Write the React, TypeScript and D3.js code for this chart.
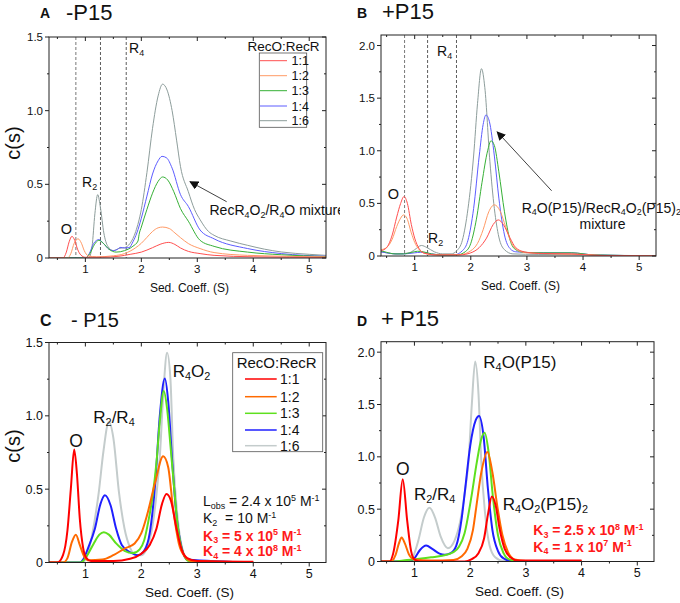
import React from 'react';
import * as d3 from 'd3';

type Pt = [number, number];

const FONT = "'Liberation Sans', Arial, Helvetica, sans-serif";

const RATIOS = ['1:1', '1:2', '1:3', '1:4', '1:6'];
const X_TICKS = [1, 2, 3, 4, 5];
const X_MINOR = [0.5, 1.5, 2.5, 3.5, 4.5];
const Y_TICKS_15 = [0, 0.5, 1.0, 1.5];
const Y_MINOR_15 = [0.25, 0.75, 1.25];
const Y_TICKS_20 = [0, 0.5, 1.0, 1.5, 2.0];
const Y_MINOR_20 = [0.25, 0.75, 1.25, 1.75];

const A_DASH = [0.83, 1.27, 1.73];
const B_DASH = [0.82, 1.23, 1.745];

// ---------- Panel A (-P15, experimental) ----------
const A_11: Pt[] = [[0.35,0],[0.6,0],[0.66,0.04],[0.71,0.11],[0.76,0.147],[0.81,0.12],[0.86,0.06],[0.92,0.02],[1.0,0.005],[1.3,0.005],[1.6,0.012],[1.8,0.025],[2.0,0.04],[2.2,0.07],[2.35,0.095],[2.49,0.106],[2.6,0.092],[2.7,0.068],[2.84,0.045],[3.05,0.03],[3.3,0.018],[4.0,0.008],[5.3,0.004]];
const A_12: Pt[] = [[0.35,0],[0.68,0],[0.74,0.03],[0.8,0.1],[0.87,0.13],[0.93,0.1],[0.98,0.05],[1.05,0.015],[1.2,0.008],[1.5,0.015],[1.7,0.03],[1.9,0.07],[2.0,0.1],[2.1,0.14],[2.2,0.18],[2.3,0.205],[2.38,0.21],[2.5,0.2],[2.6,0.17],[2.7,0.138],[2.84,0.098],[3.05,0.064],[3.3,0.037],[3.9,0.018],[5.3,0.008]];
const A_13: Pt[] = [[0.35,0],[1.0,0],[1.08,0.03],[1.16,0.09],[1.24,0.12],[1.32,0.1],[1.42,0.06],[1.55,0.04],[1.7,0.05],[1.85,0.08],[1.94,0.115],[1.96,0.16],[2.0,0.21],[2.1,0.33],[2.2,0.44],[2.3,0.52],[2.38,0.55],[2.47,0.53],[2.58,0.45],[2.7,0.335],[2.84,0.25],[3.05,0.12],[3.3,0.079],[3.9,0.04],[4.5,0.022],[5.3,0.01]];
const A_14: Pt[] = [[0.35,0],[1.0,0],[1.07,0.03],[1.15,0.1],[1.24,0.125],[1.32,0.1],[1.42,0.06],[1.5,0.05],[1.58,0.06],[1.62,0.072],[1.7,0.068],[1.78,0.07],[1.85,0.11],[1.92,0.17],[2.0,0.27],[2.1,0.42],[2.2,0.57],[2.3,0.66],[2.37,0.69],[2.45,0.68],[2.55,0.61],[2.7,0.43],[2.84,0.35],[3.05,0.19],[3.3,0.13],[3.9,0.064],[4.5,0.03],[5.3,0.012]];
const A_16: Pt[] = [[0.35,0],[1.06,0],[1.12,0.08],[1.17,0.3],[1.22,0.43],[1.27,0.34],[1.33,0.17],[1.4,0.08],[1.5,0.05],[1.6,0.065],[1.7,0.07],[1.8,0.1],[1.9,0.18],[2.0,0.33],[2.1,0.58],[2.2,0.88],[2.3,1.1],[2.38,1.18],[2.46,1.14],[2.55,1.0],[2.63,0.8],[2.7,0.62],[2.84,0.45],[2.95,0.33],[3.05,0.26],[3.2,0.18],[3.3,0.154],[3.6,0.115],[3.9,0.086],[4.2,0.06],[4.5,0.041],[5.0,0.025],[5.3,0.018]];

// ---------- Panel B (+P15, experimental) ----------
const B_11: Pt[] = [[0.4,0.05],[0.5,0.08],[0.6,0.2],[0.68,0.37],[0.75,0.5],[0.81,0.565],[0.87,0.5],[0.94,0.3],[1.0,0.17],[1.08,0.07],[1.18,0.025],[1.4,0.01],[1.8,0.01],[2.0,0.03],[2.15,0.08],[2.28,0.17],[2.4,0.3],[2.49,0.343],[2.58,0.3],[2.7,0.17],[2.8,0.08],[2.95,0.04],[3.2,0.025],[3.8,0.02],[4.3,0.005],[5.3,0.002]];
const B_12: Pt[] = [[0.4,0.06],[0.5,0.08],[0.6,0.16],[0.68,0.28],[0.75,0.36],[0.8,0.39],[0.86,0.36],[0.94,0.22],[1.0,0.13],[1.08,0.06],[1.18,0.025],[1.4,0.01],[1.8,0.012],[2.0,0.05],[2.12,0.12],[2.22,0.25],[2.32,0.42],[2.42,0.486],[2.52,0.43],[2.62,0.28],[2.72,0.13],[2.85,0.05],[3.0,0.03],[3.5,0.02],[4.0,0.015],[4.4,0.004],[5.3,0.002]];
const B_13: Pt[] = [[0.4,0.05],[0.5,0.035],[0.65,0.02],[0.8,0.02],[0.95,0.035],[1.05,0.045],[1.15,0.04],[1.3,0.02],[1.5,0.01],[1.75,0.01],[1.9,0.04],[2.0,0.12],[2.1,0.35],[2.2,0.7],[2.3,1.0],[2.36,1.095],[2.42,1.05],[2.5,0.8],[2.6,0.42],[2.7,0.15],[2.8,0.06],[2.95,0.035],[3.3,0.03],[3.8,0.03],[4.2,0.01],[5.3,0.002]];
const B_14: Pt[] = [[0.4,0.04],[0.5,0.03],[0.65,0.02],[0.8,0.02],[1.0,0.03],[1.1,0.035],[1.3,0.02],[1.5,0.01],[1.7,0.01],[1.85,0.05],[1.95,0.15],[2.05,0.45],[2.15,0.95],[2.22,1.25],[2.27,1.34],[2.33,1.28],[2.42,0.95],[2.5,0.55],[2.6,0.2],[2.7,0.07],[2.8,0.04],[3.2,0.03],[3.8,0.03],[4.2,0.01],[5.3,0.002]];
const B_16: Pt[] = [[0.4,0.04],[0.5,0.03],[0.7,0.02],[0.9,0.03],[1.0,0.06],[1.12,0.1],[1.22,0.08],[1.35,0.04],[1.5,0.02],[1.65,0.02],[1.75,0.05],[1.85,0.15],[1.95,0.45],[2.05,0.95],[2.12,1.45],[2.19,1.78],[2.25,1.6],[2.34,0.9],[2.42,0.45],[2.5,0.18],[2.6,0.06],[2.75,0.02],[3.2,0.015],[4.0,0.01],[5.3,0.002]];

// ---------- Panel C (-P15, simulated) ----------
const C_11: Pt[] = [[0.35,0],[0.5,0],[0.6,0.05],[0.68,0.22],[0.74,0.5],[0.8,0.77],[0.85,0.6],[0.9,0.3],[0.96,0.1],[1.02,0.03],[1.1,0.01],[1.5,0.01],[1.8,0.025],[2.0,0.06],[2.15,0.12],[2.27,0.23],[2.37,0.4],[2.45,0.467],[2.53,0.42],[2.63,0.23],[2.72,0.09],[2.82,0.03],[3.0,0.01],[4.0,0.005]];
const C_12: Pt[] = [[0.35,0],[0.6,0],[0.68,0.03],[0.76,0.14],[0.83,0.19],[0.9,0.12],[0.98,0.04],[1.06,0.015],[1.3,0.02],[1.5,0.05],[1.7,0.095],[1.88,0.13],[2.0,0.2],[2.1,0.32],[2.25,0.55],[2.39,0.724],[2.48,0.65],[2.57,0.36],[2.67,0.13],[2.78,0.04],[2.9,0.01],[4.0,0.002]];
const C_13: Pt[] = [[0.35,0],[0.9,0],[0.96,0.01],[1.05,0.06],[1.15,0.13],[1.25,0.19],[1.33,0.207],[1.42,0.19],[1.55,0.13],[1.7,0.08],[1.85,0.064],[1.97,0.09],[2.05,0.15],[2.12,0.27],[2.2,0.45],[2.27,0.68],[2.33,0.96],[2.4,1.17],[2.46,1.05],[2.52,0.8],[2.57,0.58],[2.65,0.25],[2.75,0.06],[2.85,0.01],[4.0,0]];
const C_14: Pt[] = [[0.35,0],[0.9,0],[0.96,0.02],[1.05,0.1],[1.17,0.23],[1.27,0.4],[1.35,0.458],[1.45,0.39],[1.55,0.23],[1.65,0.12],[1.8,0.07],[1.94,0.05],[2.05,0.08],[2.15,0.2],[2.25,0.55],[2.33,1.0],[2.42,1.255],[2.48,1.1],[2.55,0.7],[2.62,0.35],[2.72,0.1],[2.82,0.02],[4.0,0]];
const C_16: Pt[] = [[0.35,0],[0.95,0],[1.0,0.02],[1.1,0.15],[1.18,0.32],[1.24,0.48],[1.32,0.75],[1.42,0.96],[1.5,0.85],[1.6,0.48],[1.7,0.23],[1.8,0.1],[1.9,0.05],[2.0,0.05],[2.1,0.1],[2.2,0.25],[2.28,0.5],[2.33,0.72],[2.4,1.2],[2.46,1.43],[2.52,1.25],[2.57,0.72],[2.65,0.3],[2.75,0.07],[2.85,0.01],[4.0,0]];

// ---------- Panel D (+P15, simulated) ----------
const D_11: Pt[] = [[0.4,0],[0.55,0],[0.62,0.08],[0.71,0.39],[0.79,0.787],[0.87,0.39],[0.94,0.1],[1.0,0.02],[1.1,0],[1.9,0],[2.02,0.02],[2.15,0.08],[2.25,0.22],[2.32,0.45],[2.39,0.62],[2.46,0.53],[2.53,0.31],[2.62,0.12],[2.72,0.04],[2.85,0.01],[4.0,0.01]];
const D_12: Pt[] = [[0.4,0],[0.58,0],[0.66,0.06],[0.72,0.17],[0.77,0.23],[0.83,0.17],[0.9,0.07],[1.0,0.02],[1.3,0.01],[1.7,0.015],[1.85,0.05],[1.95,0.12],[2.05,0.3],[2.11,0.52],[2.2,0.85],[2.31,1.047],[2.4,0.85],[2.49,0.52],[2.58,0.25],[2.68,0.09],[2.8,0.02],[3.0,0.005],[4.0,0]];
const D_13: Pt[] = [[0.4,0],[0.6,0],[0.8,0.01],[1.0,0.02],[1.3,0.04],[1.5,0.055],[1.7,0.09],[1.8,0.14],[1.9,0.27],[2.02,0.61],[2.12,0.95],[2.2,1.17],[2.26,1.23],[2.33,1.05],[2.41,0.61],[2.5,0.25],[2.6,0.08],[2.7,0.02],[2.85,0.005],[4.0,0]];
const D_14: Pt[] = [[0.4,0],[0.9,0],[1.0,0.03],[1.1,0.11],[1.21,0.152],[1.32,0.12],[1.45,0.075],[1.54,0.064],[1.65,0.08],[1.75,0.15],[1.85,0.42],[1.91,0.69],[2.0,1.1],[2.1,1.35],[2.16,1.39],[2.24,1.2],[2.32,0.69],[2.4,0.3],[2.5,0.1],[2.6,0.03],[2.75,0.005],[4.0,0]];
const D_16: Pt[] = [[0.4,0],[0.9,0],[0.97,0.04],[1.07,0.2],[1.17,0.42],[1.27,0.514],[1.37,0.42],[1.47,0.24],[1.6,0.127],[1.72,0.2],[1.82,0.38],[1.92,0.72],[1.97,0.95],[2.03,1.5],[2.09,1.91],[2.15,1.6],[2.2,0.95],[2.27,0.45],[2.35,0.15],[2.45,0.04],[2.6,0.005],[4.0,0]];

const COL_THIN = ['#ff4f4f', '#ff9a66', '#36b036', '#5c5cff', '#8d9d9b'];
const COL_BOLD = ['#ff0000', '#ff6a00', '#5ee01e', '#1f1fff', '#c4cccc'];

function parseRich(s: string) {
  const out: { t: string; m: 'n' | 'sub' | 'sup' }[] = [];
  const re = /([_^])\{([^}]*)\}/g;
  let last = 0;
  let mm: RegExpExecArray | null;
  while ((mm = re.exec(s))) {
    if (mm.index > last) out.push({ t: s.slice(last, mm.index), m: 'n' });
    out.push({ t: mm[2], m: mm[1] === '_' ? 'sub' : 'sup' });
    last = re.lastIndex;
  }
  if (last < s.length) out.push({ t: s.slice(last), m: 'n' });
  return out;
}

function Rich({ x, y, text, size, anchor = 'start', fill = '#111', weight = 'normal' }: any) {
  const toks = parseRich(text);
  let cur = 0;
  return (
    <text x={x} y={y} fontSize={size} textAnchor={anchor} fill={fill} fontWeight={weight} fontFamily={FONT} style={{ whiteSpace: 'pre' }}>
      {toks.map((tk, i) => {
        const target = tk.m === 'sub' ? size * 0.2 : tk.m === 'sup' ? -size * 0.36 : 0;
        const dy = target - cur;
        cur = target;
        return (
          <tspan key={i} dy={dy} fontSize={tk.m === 'n' ? size : size * 0.64}>
            {tk.t}
          </tspan>
        );
      })}
    </text>
  );
}

type PanelCfg = {
  id: string;
  l: number; r: number; t: number; b: number;
  xd: [number, number]; yd: [number, number];
  yTicks: number[]; yMinor: number[];
  series: Pt[][]; colors: string[]; sw: number;
  dashes?: number[];
  tickSize: number; xTitleSize: number;
};

function Panel({ p }: { p: PanelCfg }) {
  const x = d3.scaleLinear().domain(p.xd).range([p.l, p.r]);
  const y = d3.scaleLinear().domain(p.yd).range([p.b, p.t]);
  const line = d3.line<Pt>().x(d => x(d[0])).y(d => y(d[1])).curve(d3.curveMonotoneX);
  const clipId = 'clip' + p.id;
  const order = [4, 3, 2, 1, 0];
  const fmt = (v: number) => (v === 0 ? '0' : d3.format('.1f')(v));
  return (
    <g>
      <defs>
        <clipPath id={clipId}>
          <rect x={p.l} y={p.t} width={p.r - p.l} height={p.b - p.t} />
        </clipPath>
      </defs>
      {(p.dashes || []).map((s, i) => (
        <line key={'d' + i} x1={x(s)} x2={x(s)} y1={p.t} y2={p.b} stroke={i === 0 ? '#555' : '#333'} strokeWidth={0.8} strokeDasharray="3,2" />
      ))}
      <g clipPath={`url(#${clipId})`}>
        {order.map(i => (
          <path key={i} d={line(p.series[i]) || ''} fill="none" stroke={p.colors[i]} strokeWidth={p.sw} strokeLinejoin="round" />
        ))}
      </g>
      <rect x={p.l} y={p.t} width={p.r - p.l} height={p.b - p.t} fill="none" stroke="#222" strokeWidth={1} />
      {X_TICKS.map(v => (
        <g key={'xt' + v}>
          <line x1={x(v)} x2={x(v)} y1={p.b} y2={p.b + 4} stroke="#222" />
          <line x1={x(v)} x2={x(v)} y1={p.t} y2={p.t + 4} stroke="#222" />
          <text x={x(v)} y={p.b + 15} fontSize={p.tickSize} textAnchor="middle" fontFamily={FONT} fill="#111">{v}</text>
        </g>
      ))}
      {X_MINOR.filter(v => v >= p.xd[0]).map(v => (
        <g key={'xm' + v}>
          <line x1={x(v)} x2={x(v)} y1={p.b} y2={p.b + 2} stroke="#222" />
          <line x1={x(v)} x2={x(v)} y1={p.t} y2={p.t + 2} stroke="#222" />
        </g>
      ))}
      {p.yTicks.map(v => (
        <g key={'yt' + v}>
          <line x1={p.l - 4} x2={p.l} y1={y(v)} y2={y(v)} stroke="#222" />
          <line x1={p.r - 4} x2={p.r} y1={y(v)} y2={y(v)} stroke="#222" />
          <text x={p.l - 6} y={y(v)} dy="0.35em" fontSize={p.tickSize} textAnchor="end" fontFamily={FONT} fill="#111">{fmt(v)}</text>
        </g>
      ))}
      {p.yMinor.map(v => (
        <g key={'ym' + v}>
          <line x1={p.l - 2} x2={p.l} y1={y(v)} y2={y(v)} stroke="#222" />
          <line x1={p.r - 2} x2={p.r} y1={y(v)} y2={y(v)} stroke="#222" />
        </g>
      ))}
      <text x={(p.l + p.r) / 2 + 2} y={p.b + 34} fontSize={p.xTitleSize} textAnchor="middle" fontFamily={FONT} fill="#111">Sed. Coeff. (S)</text>
    </g>
  );
}

function Legend({ x0, y0, w, h, lineX1, lineX2, labelX, rows, titleX, titleY, titleSize, labelSize, colors, sw }: any) {
  return (
    <g>
      <rect x={x0} y={y0} width={w} height={h} fill="white" stroke="#555" strokeWidth={0.8} />
      <text x={titleX} y={titleY} fontSize={titleSize} textAnchor="middle" fontFamily={FONT} fill="#111">RecO:RecR</text>
      {RATIOS.map((r, i) => (
        <g key={r}>
          <line x1={lineX1} x2={lineX2} y1={rows[i]} y2={rows[i]} stroke={colors[i]} strokeWidth={sw} />
          <text x={labelX} y={rows[i]} dy="0.36em" fontSize={labelSize} fontFamily={FONT} fill="#111">{r}</text>
        </g>
      ))}
    </g>
  );
}

const PA: PanelCfg = { id: 'A', l: 49, r: 326, t: 37, b: 258, xd: [0.35, 5.3], yd: [0, 1.5], yTicks: Y_TICKS_15, yMinor: Y_MINOR_15, series: [A_11, A_12, A_13, A_14, A_16], colors: COL_THIN, sw: 1, dashes: A_DASH, tickSize: 11.5, xTitleSize: 12 };
const PB: PanelCfg = { id: 'B', l: 381, r: 656, t: 35, b: 256, xd: [0.4, 5.3], yd: [0, 2.1], yTicks: Y_TICKS_20, yMinor: Y_MINOR_20, series: [B_11, B_12, B_13, B_14, B_16], colors: COL_THIN, sw: 1, dashes: B_DASH, tickSize: 11.5, xTitleSize: 12 };
const PC: PanelCfg = { id: 'C', l: 49, r: 326, t: 342.5, b: 562.5, xd: [0.35, 5.3], yd: [0, 1.5], yTicks: Y_TICKS_15, yMinor: Y_MINOR_15, series: [C_11, C_12, C_13, C_14, C_16], colors: COL_BOLD, sw: 2, tickSize: 12.5, xTitleSize: 13.5 };
const PD: PanelCfg = { id: 'D', l: 381, r: 654, t: 341.7, b: 561.5, xd: [0.4, 5.3], yd: [0, 2.1], yTicks: Y_TICKS_20, yMinor: Y_MINOR_20, series: [D_11, D_12, D_13, D_14, D_16], colors: COL_BOLD, sw: 2, tickSize: 12.5, xTitleSize: 13.5 };

export default function App() {
  const xa = d3.scaleLinear().domain(PA.xd).range([PA.l, PA.r]);
  const ya = d3.scaleLinear().domain(PA.yd).range([PA.b, PA.t]);
  const xb = d3.scaleLinear().domain(PB.xd).range([PB.l, PB.r]);
  const yb = d3.scaleLinear().domain(PB.yd).range([PB.b, PB.t]);
  return (
    <svg width={680} height={603} style={{ position: 'absolute', left: 0, top: 0, background: 'white' }} fontFamily={FONT}>
      <defs>
        <marker id="arrowHead" viewBox="0 0 10 10" refX="9" refY="5" markerWidth="9" markerHeight="9" markerUnits="userSpaceOnUse" orient="auto">
          <path d="M0,0 L10,5 L0,10 z" fill="#111" />
        </marker>
        <clipPath id="leftHalf">
          <rect x={0} y={0} width={340} height={603} />
        </clipPath>
      </defs>
      <rect x={0} y={0} width={680} height={603} fill="white" />

      {/* Panel titles */}
      <text x={40} y={18} fontSize={14} fontWeight="bold" fontFamily={FONT} fill="#111">A</text>
      <text x={66} y={20} fontSize={22} fontFamily={FONT} fill="#111">-P15</text>
      <text x={357} y={18} fontSize={14} fontWeight="bold" fontFamily={FONT} fill="#111">B</text>
      <text x={382} y={18.5} fontSize={22} fontFamily={FONT} fill="#111">+P15</text>
      <text x={40} y={326} fontSize={16} fontWeight="bold" fontFamily={FONT} fill="#111">C</text>
      <text x={71} y={326.5} fontSize={20} fontFamily={FONT} fill="#111">- P15</text>
      <text x={357} y={326} fontSize={14} fontWeight="bold" fontFamily={FONT} fill="#111">D</text>
      <text x={381} y={326} fontSize={22} fontFamily={FONT} fill="#111">+ P15</text>

      {/* Y titles */}
      <text transform="translate(20,143) rotate(-90)" fontSize={20} textAnchor="middle" fontFamily={FONT} fill="#111">c(s)</text>
      <text transform="translate(20,446) rotate(-90)" fontSize={20} textAnchor="middle" fontFamily={FONT} fill="#111">c(s)</text>

      <Panel p={PA} />
      <Panel p={PB} />
      <Panel p={PC} />
      <Panel p={PD} />

      {/* Panel A annotations */}
      <Rich x={66.5} y={234} text="O" size={14.5} anchor="middle" />
      <Rich x={82} y={187} text="R_{2}" size={14} />
      <Rich x={129} y={53} text="R_{4}" size={14} />
      <line x1={xa(3.525)} y1={ya(0.382)} x2={xa(2.87)} y2={ya(0.518)} stroke="#111" strokeWidth={0.8} markerEnd="url(#arrowHead)" />
      <g clipPath="url(#leftHalf)">
        <Rich x={209.5} y={215} text="RecR_{4}O_{2}/R_{4}O mixture" size={14} />
      </g>
      <Legend x0={259.3} y0={53} w={47.4} h={74.3} lineX1={260} lineX2={287} labelX={291.5} rows={[60.7, 75.7, 90.7, 106, 120.7]} titleX={283.5} titleY={51} titleSize={13.5} labelSize={12.5} colors={COL_THIN} sw={1} />

      {/* Panel B annotations */}
      <Rich x={393.3} y={198.5} text="O" size={14.5} anchor="middle" />
      <Rich x={428} y={243} text="R_{2}" size={14} />
      <Rich x={437} y={56} text="R_{4}" size={14} />
      <line x1={xb(3.44)} y1={yb(0.62)} x2={xb(2.47)} y2={yb(1.18)} stroke="#111" strokeWidth={0.8} markerEnd="url(#arrowHead)" />
      <Rich x={521.7} y={212.5} text="R_{4}O(P15)/RecR_{4}O_{2}(P15)_{2}" size={14} />
      <Rich x={602.5} y={229} text="mixture" size={14} anchor="middle" />

      {/* Panel C annotations */}
      <Rich x={76} y={446.5} text="O" size={17.5} anchor="middle" />
      <Rich x={93.3} y={422.5} text="R_{2}/R_{4}" size={17} />
      <Rich x={172.7} y={376.5} text="R_{4}O_{2}" size={17} />
      <Legend x0={232.7} y0={352.7} w={90} h={99} lineX1={245} lineX2={276.7} labelX={280} rows={[379, 396.7, 413.3, 430, 445.7]} titleX={276.7} titleY={368} titleSize={15} labelSize={14} colors={COL_BOLD} sw={1.5} />
      <Rich x={203} y={506} text="L_{obs} = 2.4 x 10^{5} M^{-1}" size={14} />
      <Rich x={203} y={523} text="K_{2}  = 10 M^{-1}" size={14} />
      <Rich x={203} y={540.5} text="K_{3} = 5 x 10^{5} M^{-1}" size={14} fill="#ff1a1a" weight="bold" />
      <Rich x={203} y={556} text="K_{4} = 4 x 10^{8} M^{-1}" size={14} fill="#ff1a1a" weight="bold" />

      {/* Panel D annotations */}
      <Rich x={402.7} y={474.5} text="O" size={17.5} anchor="middle" />
      <Rich x={414} y={499.5} text="R_{2}/R_{4}" size={17} />
      <Rich x={483.3} y={367.5} text="R_{4}O(P15)" size={17} />
      <Rich x={502.7} y={509.5} text="R_{4}O_{2}(P15)_{2}" size={17} />
      <Rich x={533.3} y={535} text="K_{3} = 2.5 x 10^{8} M^{-1}" size={14} fill="#ff1a1a" weight="bold" />
      <Rich x={533.3} y={551.5} text="K_{4} = 1 x 10^{7} M^{-1}" size={14} fill="#ff1a1a" weight="bold" />
    </svg>
  );
}
